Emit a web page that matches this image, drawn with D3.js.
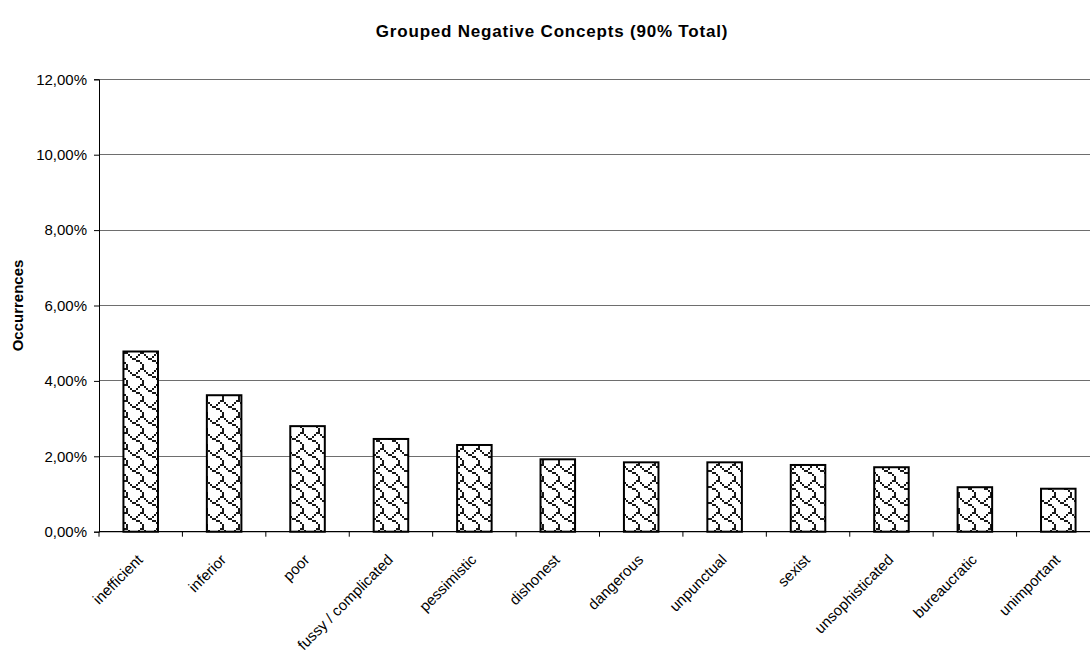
<!DOCTYPE html>
<html>
<head>
<meta charset="utf-8">
<script src="https://cdn.jsdelivr.net/npm/d3@7"></script>
<style>
  html, body { margin: 0; padding: 0; background: #fff; }
  svg { display: block; font-family: "Liberation Sans", Arial, sans-serif; }
</style>
</head>
<body>
<svg id="chart" width="1090" height="657"></svg>
<script>
// Share of occurrences per grouped negative concept
const categories = ["inefficient", "inferior", "poor", "fussy / complicated", "pessimistic",
  "dishonest", "dangerous", "unpunctual", "sexist", "unsophisticated", "bureaucratic", "unimportant"];
const shares = [0.0478, 0.0362, 0.0280, 0.0246, 0.0230, 0.0192, 0.0184, 0.0184, 0.0177, 0.0171, 0.0118, 0.0114];
const yTicks = [0, 0.02, 0.04, 0.06, 0.08, 0.10, 0.12];
const titleText = "Grouped Negative Concepts (90% Total)";
const yTitleText = "Occurrences";

// 8x8 shingle fill bitmap, one row per byte (MSB = left pixel)
const shingleRows = [0x03, 0x84, 0x48, 0x30, 0x0C, 0x02, 0x01, 0x01];

const svg = d3.select("#chart");
const plot = { left: 99, right: 1100, top: 79.3, bottom: 531.7 };

const pctFmt = d3.formatLocale({ decimal: ",", thousands: ".", grouping: [3], currency: ["", "€"] }).format(".2%");

const x = d3.scaleBand().domain(categories).range([plot.left, plot.right]).padding(0);
const y = d3.scaleLinear().domain([0, 0.12]).range([plot.bottom, plot.top]);
const barFrac = 0.414;

// pattern definition
const px = 2;
const defs = svg.append("defs");
const pat = defs.append("pattern")
  .attr("id", "shingle")
  .attr("patternUnits", "userSpaceOnUse")
  .attr("width", 8 * px).attr("height", 8 * px);
pat.append("rect").attr("width", 8 * px).attr("height", 8 * px).attr("fill", "#fff");
shingleRows.forEach((row, r) => {
  for (let c = 0; c < 8; c++) {
    if (row & (0x80 >> c)) {
      pat.append("rect")
        .attr("x", c * px).attr("y", r * px)
        .attr("width", px).attr("height", px)
        .attr("fill", "#1a1a1a");
    }
  }
});

// horizontal gridlines
svg.append("g")
  .selectAll("line")
  .data(yTicks.filter(d => d > 0))
  .join("line")
  .attr("x1", plot.left).attr("x2", plot.right)
  .attr("y1", d => y(d)).attr("y2", d => y(d))
  .attr("stroke", "#6e6e6e").attr("stroke-width", 1)
  .attr("shape-rendering", "crispEdges");

// bars
svg.append("g")
  .selectAll("rect")
  .data(categories.map((c, i) => ({ c, v: shares[i] })))
  .join("rect")
  .attr("x", d => x(d.c) + x.bandwidth() * (1 - barFrac) / 2)
  .attr("width", x.bandwidth() * barFrac)
  .attr("y", d => y(d.v))
  .attr("height", d => y(0) - y(d.v))
  .attr("fill", "url(#shingle)")
  .attr("stroke", "#000").attr("stroke-width", 2);

// y axis
const yAxis = d3.axisLeft(y).tickValues(yTicks).tickFormat(pctFmt).tickSizeOuter(0).tickSize(5).tickPadding(7);
const gy = svg.append("g").attr("transform", `translate(${plot.left},0)`).call(yAxis);
gy.select(".domain").attr("stroke", "#000").attr("stroke-width", 1);
gy.selectAll(".tick line").attr("stroke", "#000");
gy.selectAll(".tick text").attr("font-size", 15).attr("fill", "#000")
  .attr("font-family", "'Liberation Sans', Arial, sans-serif");

// x axis baseline with ticks on category boundaries
svg.append("line")
  .attr("x1", plot.left).attr("x2", plot.right)
  .attr("y1", y(0)).attr("y2", y(0))
  .attr("stroke", "#000").attr("stroke-width", 1.2);
svg.append("g")
  .selectAll("line")
  .data(categories)
  .join("line")
  .attr("x1", d => x(d)).attr("x2", d => x(d))
  .attr("y1", y(0)).attr("y2", y(0) + 5)
  .attr("stroke", "#000");

// category labels, rotated
svg.append("g")
  .selectAll("text")
  .data(categories)
  .join("text")
  .attr("transform", d => `translate(${x(d) + x.bandwidth() / 2 + 3},${plot.bottom + 29}) rotate(-45)`)
  .attr("text-anchor", "end")
  .attr("font-size", 15)
  .attr("fill", "#000")
  .text(d => d);

// title
svg.append("text")
  .attr("x", 552).attr("y", 37)
  .attr("text-anchor", "middle")
  .attr("font-size", 17).attr("font-weight", "bold")
  .attr("letter-spacing", 0.8)
  .text(titleText);

// y axis title
svg.append("text")
  .attr("transform", `translate(23,${(plot.top + plot.bottom) / 2}) rotate(-90)`)
  .attr("text-anchor", "middle")
  .attr("font-size", 15).attr("font-weight", "bold")
  .text(yTitleText);
</script>
</body>
</html>
